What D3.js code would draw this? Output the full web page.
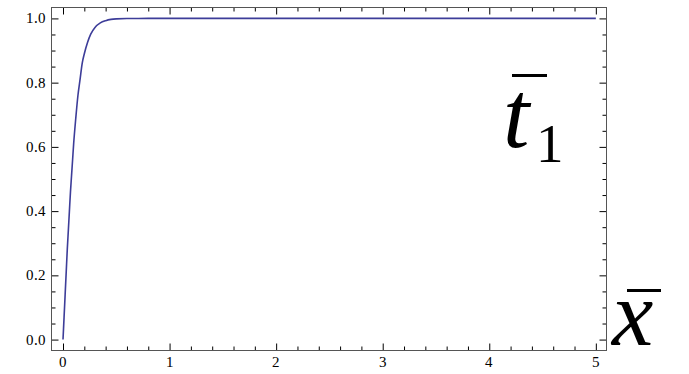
<!DOCTYPE html>
<html>
<head>
<meta charset="utf-8">
<script src="https://cdn.jsdelivr.net/npm/d3@7"></script>
<style>
  @font-face {
    font-family: "ChartSerif";
    font-style: normal;
    font-weight: 400;
    font-display: swap;
    src: local("Liberation Serif"), local("LiberationSerif"), local("Tinos"), local("Tinos-Regular");
  }
  @font-face {
    font-family: "ChartSerif";
    font-style: italic;
    font-weight: 400;
    font-display: swap;
    src: local("Liberation Serif Italic"), local("LiberationSerif-Italic"), local("Tinos Italic"), local("Tinos-Italic");
  }
  html, body { margin: 0; padding: 0; background: #fff; }
  svg { display: block; }
  svg text { font-family: "ChartSerif"; }
</style>
</head>
<body>
<svg id="chart" width="689" height="374"></svg>
<script>
// Dimensionless response t1 (barred) against x (barred), sampled along the curve
const xValues = [0, 0.01, 0.02, 0.03, 0.04, 0.05, 0.06, 0.07, 0.08, 0.09, 0.10,
  0.12, 0.14, 0.16, 0.18, 0.20, 0.23, 0.26, 0.30, 0.35, 0.40, 0.45, 0.50, 0.60,
  0.80, 1, 2, 3, 4, 5];
const yValues = [0, 0.07, 0.14, 0.21, 0.28, 0.34, 0.40, 0.46, 0.51, 0.56, 0.61,
  0.69, 0.76, 0.81, 0.86, 0.89, 0.925, 0.951, 0.972, 0.986, 0.993, 0.997, 0.9987, 0.9998,
  1, 1, 1, 1, 1, 1];
const xTicks = [0, 1, 2, 3, 4, 5];
const yTicks = [0, 0.2, 0.4, 0.6, 0.8, 1.0];

const svg = d3.select("#chart");
const frame = { left: 51.5, right: 606.5, top: 7.5, bottom: 350.5 };

const x = d3.scaleLinear().domain([-0.108, 5.1]).range([frame.left, frame.right]);
const y = d3.scaleLinear().domain([-0.034, 1.034]).range([frame.bottom, frame.top]);

const xMinor = d3.range(0, 5.0001, 0.2).filter(v => Math.abs(v - Math.round(v)) > 1e-6);
const yMinor = d3.range(0, 1.0001, 0.05).filter(v => Math.abs(v * 5 - Math.round(v * 5)) > 1e-6);

const majorLen = 7, minorLen = 4;

function addTicks(axisFn, scale, ticks, len, translate) {
  const g = svg.append("g").attr("transform", translate)
    .call(axisFn(scale).tickValues(ticks).tickSizeInner(len).tickSizeOuter(0).tickFormat(() => ""));
  g.attr("font-family", null).attr("font-size", null);
  g.select(".domain").remove();
  g.selectAll(".tick text").remove();
  g.selectAll(".tick line").attr("stroke", "#000").attr("stroke-width", 1);
  return g;
}

// inward ticks on all four sides
addTicks(d3.axisTop, x, xTicks, majorLen, `translate(0,${frame.bottom})`);
addTicks(d3.axisTop, x, xMinor, minorLen, `translate(0,${frame.bottom})`);
addTicks(d3.axisBottom, x, xTicks, majorLen, `translate(0,${frame.top})`);
addTicks(d3.axisBottom, x, xMinor, minorLen, `translate(0,${frame.top})`);
addTicks(d3.axisRight, y, yTicks, majorLen, `translate(${frame.left},0)`);
addTicks(d3.axisRight, y, yMinor, minorLen, `translate(${frame.left},0)`);
addTicks(d3.axisLeft, y, yTicks, majorLen, `translate(${frame.right},0)`);
addTicks(d3.axisLeft, y, yMinor, minorLen, `translate(${frame.right},0)`);

// tick labels
const fmtX = d3.format("d"), fmtY = d3.format(".1f");
svg.selectAll("text.xlab").data(xTicks).join("text")
  .attr("class", "xlab")
  .attr("x", d => x(d)).attr("y", frame.bottom + 16)
  .attr("text-anchor", "middle")
  .style("font-size", "15px")
  .text(fmtX);
svg.selectAll("text.ylab").data(yTicks).join("text")
  .attr("class", "ylab")
  .attr("x", frame.left - 6).attr("y", d => y(d) + 5)
  .attr("text-anchor", "end")
  .style("font-size", "15px")
  .text(fmtY);

// frame
svg.append("rect")
  .attr("x", frame.left).attr("y", frame.top)
  .attr("width", frame.right - frame.left).attr("height", frame.bottom - frame.top)
  .attr("fill", "none").attr("stroke", "#555").attr("stroke-width", 1);

// curve
const pts = xValues.map((v, i) => [v, yValues[i]]);
svg.append("path")
  .datum(pts)
  .attr("fill", "none")
  .attr("stroke", "#3d3d99")
  .attr("stroke-width", 1.6)
  .attr("d", d3.line().x(d => x(d[0])).y(d => y(d[1])).curve(d3.curveMonotoneX));

// large symbols: barred t with subscript 1, and barred x
svg.append("text")
  .attr("x", 503).attr("y", 147)
  .style("font-style", "italic").style("font-size", "95px")
  .text("t");
svg.append("text")
  .attr("x", 536).attr("y", 162)
  .style("font-size", "55px")
  .text("1");
svg.append("rect").attr("x", 512).attr("y", 74).attr("width", 35).attr("height", 3).attr("fill", "#000");

svg.append("text")
  .attr("x", 612).attr("y", 345)
  .style("font-style", "italic").style("font-size", "93px")
  .text("x");
svg.append("rect").attr("x", 627).attr("y", 289).attr("width", 34).attr("height", 3).attr("fill", "#000");

// make sure the serif faces are fetched from the system
if (document.fonts && document.fonts.load) {
  document.fonts.load('15px "ChartSerif"');
  document.fonts.load('italic 95px "ChartSerif"');
}
</script>
</body>
</html>
